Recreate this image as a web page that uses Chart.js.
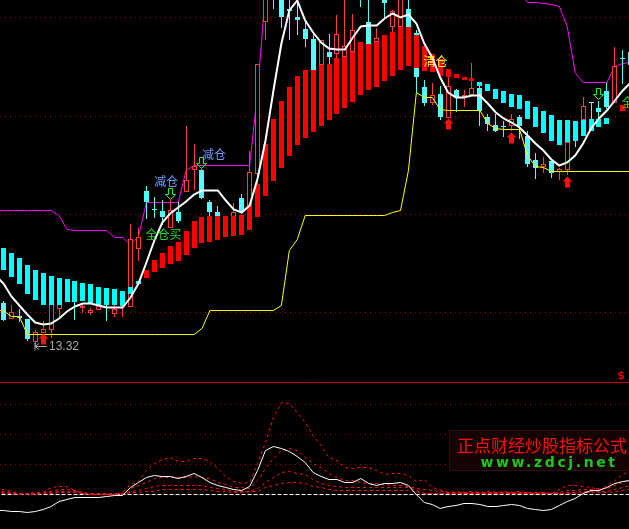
<!DOCTYPE html>
<html>
<head>
<meta charset="utf-8">
<style>
    html, body { margin: 0; padding: 0; background: #000; overflow: hidden; }
    canvas { display: block; }
</style>
<script src="https://cdn.jsdelivr.net/npm/chart.js"></script>
</head>
<body>
<canvas id="kline" width="629" height="529"></canvas>
<script>
    // candles, one entry per trading day (upper pane units)
    const candleTop = [
        81,72,68,65,52,55,83,81,98,93,
        78,73,78,93,75,75,145,147,193,175,
        173,174,171,204,218,213,182,172,163,171,
        186,212,320,388,403,388,374,366,354,345,
        343,331,349,338,353,393,361,346,386,372,
        386,375,351,297,288,290,298,293,288,296,
        296,267,259,258,265,267,248,224,219,223,
        214,242,258,278,281,276,292,317,325,332];
    const candleBottom = [
        64,65,66,45,42,51,54,75,88,85,
        76,71,73,83,70,74,77,134,182,174,
        167,156,163,192,213,186,171,167,158,167,
        172,178,210,362,388,366,372,364,345,308,
        319,327,329,327,331,386,340,341,380,357,
        357,343,307,280,280,267,266,286,286,289,
        273,260,253,256,257,257,219,216,217,211,
        212,213,253,264,280,272,277,280,324,319];
    const candleHigh = [
        83,79,74,65,54,62,83,82,98,98,
        80,76,80,95,79,78,160,156,198,187,
        184,183,182,257,240,215,184,178,165,181,
        190,232,320,388,403,388,388,388,364,351,
        343,349,369,388,370,393,388,356,388,373,
        386,388,353,304,300,298,307,294,293,321,
        299,270,269,262,270,268,253,231,226,223,
        216,263,261,286,281,283,300,336,334,338];
    const candleLow = [
        62,65,61,43,37,51,46,67,88,64,
        71,69,73,63,67,67,77,123,164,166,
        158,156,161,192,194,185,168,167,155,167,
        171,176,200,344,374,355,344,348,336,308,
        319,320,325,327,331,377,338,341,365,352,
        357,343,291,278,279,264,266,272,277,289,
        257,253,252,247,253,244,217,205,211,206,
        204,209,237,264,265,265,274,280,299,308];
    const candleUp = [
        0,1,0,0,1,1,1,1,0,0,
        1,1,1,0,1,1,1,1,0,0,
        0,1,0,1,1,0,0,0,1,1,
        0,1,1,1,0,0,0,0,0,0,
        1,0,1,1,1,0,0,1,0,1,
        1,0,0,0,1,0,1,0,1,1,
        0,0,0,0,1,0,0,0,1,0,
        1,1,0,1,0,0,0,1,0,0];

    // thick red/cyan trend band
    const bandTop = [
        136,131,126,119,114,110,108,106,105,103,
        101,99,97,96,95,93,97,103,114,124,
        131,138,142,152,163,167,168,168,168,168,
        169,178,200,240,265,282,297,308,314,314,
        319,320,325,327,331,341,340,341,348,352,
        357,357,348,337,329,324,315,310,307,305,
        302,299,295,292,290,288,282,277,273,268,
        264,263,262,264,265,265,266,270,279];
    const bandBottom = [
        114,107,100,90,84,79,79,79,82,82,
        83,80,78,79,79,78,90,99,106,111,
        116,120,123,129,136,140,142,144,146,148,
        149,154,167,188,203,216,228,238,246,251,
        258,263,270,275,281,288,293,297,303,308,
        314,317,316,313,311,308,307,305,304,303,
        298,292,285,280,277,274,265,256,250,243,
        238,242,243,248,253,256,260,269,273];
    const bandUp = [
        0,0,0,0,0,0,0,0,0,0,
        0,0,0,0,0,0,0,0,1,1,
        1,1,1,1,1,1,1,1,1,1,
        1,1,1,1,1,1,1,1,1,1,
        1,1,1,1,1,1,1,1,1,1,
        1,1,1,1,1,1,1,1,1,1,
        0,0,0,0,0,0,0,0,0,0,
        0,0,0,0,0,0,0,0,1];

    // the lines below start one day before the first candle, off the left edge
    const whiteLine = [108,
        100,87,78,69,61,59,60,65,72,77,
        80,80,78,76,76,76,86,100,121,143,
        161,170,176,182,189,193,193,193,183,174,
        171,178,205,243,293,340,373,383,363,351,
        341,335,334,334,346,357,358,358,365,370,
        366,369,360,340,326,306,291,286,286,288,
        288,280,271,265,261,256,248,240,233,224,
        218,221,228,240,255,265,273,283,293,301];
    const magentaLine = [173,
        173,173,173,173,173,173,173,168,154,153,
        153,153,153,153,146,146,139,147,181,181,
        181,181,181,213,218,218,218,218,218,218,
        218,218,291,393,null,null,null,null,null,null,
        null,null,null,null,null,null,null,null,null,null,
        null,null,null,null,null,null,null,null,null,null,
        null,null,null,null,null,393,381,381,380,379,
        377,357,311,301,301,301,301,317,320,321];
    const yellowLine = [73,
        73,67,67,49,49,49,49,49,49,49,
        49,49,49,49,49,49,49,49,49,49,
        49,49,49,49,49,55,73,73,73,73,
        73,73,73,73,73,78,133,144,168,168,
        168,168,168,168,168,168,168,168,168,171,
        173,213,291,286,286,274,273,273,273,273,
        273,260,255,254,254,254,228,217,216,212,
        212,212,212,212,212,212,212,212,212,212];

    // lower pane
    const oscMain = [-16,
        -16,-17,-17,-18,-17,-15,-12,-7,-5,-3,
        -3,-3,-3,-2,-1,-1,7,12,17,19,
        18,18,16,18,21,17,12,9,7,5,
        4,8,24,44,48,46,43,38,32,22,
        18,15,15,12,12,16,11,9,11,11,
        12,9,0,-8,-10,-14,-12,-11,-9,-9,
        -10,-12,-12,-11,-10,-11,-14,-15,-16,-15,
        -11,-7,-4,1,4,4,7,11,13,14];
    const oscRed1 = [6,
        5,3,1,1,2,2,7,8,8,4,
        1,0,0,0,0,2,10,13,24,31,
        35,37,33,33,36,36,33,26,18,13,
        11,12,31,52,77,92,91,82,72,59,
        49,37,34,27,26,27,27,24,20,21,
        21,19,13,15,7,5,2,3,2,3,
        2,3,2,3,2,3,2,2,2,1,
        5,9,9,8,7,5,9,14,20,24];
    const oscRed2 = [3,
        3,2,1,1,1,2,3,5,5,4,
        2,1,1,1,1,1,6,9,12,16,
        17,17,17,17,18,17,16,12,10,7,
        7,6,14,26,36,44,46,44,37,31,
        27,21,17,14,14,12,11,11,10,9,
        9,8,6,5,4,3,2,2,2,2,
        2,2,2,2,2,2,2,1,2,1,
        2,4,4,5,5,6,6,9,12,16];
    const oscRed3 = [2,
        2,1,1,1,1,1,2,3,3,3,
        1,1,1,1,1,1,3,4,6,8,
        9,9,9,9,9,9,7,6,5,3,
        3,3,6,12,17,22,23,21,20,15,
        11,9,8,7,7,7,7,7,7,7,
        7,7,4,1,1,1,1,1,1,1,
        1,1,1,1,1,1,1,1,1,1,
        1,2,2,3,3,3,3,5,7,9];
    const oscRed4 = [1,
        1,1,0,0,0,1,1,2,2,2,
        1,0,0,0,0,0,2,2,3,3,
        5,5,5,5,5,5,4,3,3,2,
        2,3,3,7,9,11,12,12,11,8,
        7,5,4,4,4,4,4,4,4,4,
        4,4,2,1,1,1,1,1,1,1,
        1,1,1,1,1,1,1,1,1,1,
        1,1,1,2,2,2,2,3,4,5];

    // tick levels
    const priceGrid = [366, 267, 169, 71];
    const oscGrid = [90, 60, 30];

    // signal arrows
    const buyDays = [5, 56, 64, 71];
    const buyLevels = [44.5, 259.5, 245.5, 201.5];
    const cutDays = [21, 25, 75];
    const cutLevels = [189.5, 221, 290];

    // signal words
    const noteTexts = ['减仓', '减仓', '全仓买', '清仓', '全仓买'];
    const noteDays = [20.5, 26.5, 20.15, 54.4, 80.1];
    const noteLevels = [202.5, 229.5, 149, 322, 281];
    const noteColors = ['#6c9cff', '#6c9cff', '#22dd22', '#ffff33', '#22dd22'];

    const lowLabel = '13.32';
    const lowDay = 5.48;
    const lowLevel = 37;

    const CYAN = '#54fcfc';
    const RED = '#ff3c3c';
    const series = arr => arr.map((v, i) => ({ x: i - 1, y: v }));
    const span = (a, b) => a.map((v, i) => ({ x: i, y: [b[i], v] }));

    function arrowSprite(color, down, hollow) {
        const c = document.createElement('canvas');
        c.width = 11; c.height = 12;
        const g = c.getContext('2d');
        const shaftL = hollow ? 3.5 : 3, shaftR = hollow ? 7.5 : 8;
        const pts = [[5.5, 0.5], [10.5, 5.5], [shaftR, 5.5], [shaftR, 11.5], [shaftL, 11.5], [shaftL, 5.5], [0.5, 5.5]];
        if (down) g.setTransform(1, 0, 0, -1, 0, 12);
        g.beginPath();
        pts.forEach((p, i) => i ? g.lineTo(p[0], p[1]) : g.moveTo(p[0], p[1]));
        g.closePath();
        if (hollow) {
            g.strokeStyle = color;
            g.stroke();
        } else {
            g.fillStyle = color;
            g.fill();
        }
        return c;
    }

    const barBase = { type: 'bar', grouped: false, borderSkipped: false, inflateAmount: 0, xAxisID: 'x', yAxisID: 'y' };
    const lineBase = { type: 'line', pointRadius: 0, tension: 0, spanGaps: false, xAxisID: 'x', yAxisID: 'y' };
    const oscLine = (arr, order) => ({
        ...lineBase, data: series(arr), yAxisID: 'osc', borderColor: '#ff1010', borderWidth: 1, borderDash: [3, 3], order: order
    });

    // snap bars and arrows on whole pixels, the reference has no antialiasing
    const snapBars = {
        id: 'snapBars',
        afterDatasetsUpdate(chart) {
            chart.getSortedVisibleDatasetMetas().forEach(meta => {
                if (meta.type === 'bar') {
                    meta.data.forEach(el => {
                        el.x = Math.floor(el.x) + 0.5;
                        el.y = Math.round(el.y);
                        el.base = Math.round(el.base);
                    });
                } else if (meta.type === 'scatter') {
                    meta.data.forEach(el => {
                        el.x = Math.floor(el.x) + 0.5;
                        el.y = Math.round(el.y);
                    });
                }
            });
        }
    };

    const notes = {
        id: 'notes',
        afterDatasetsDraw(chart) {
            const g = chart.ctx, x = chart.scales.x, y = chart.scales.y;
            g.save();
            g.textAlign = 'center';
            g.textBaseline = 'middle';
            g.font = '12px "Noto Sans CJK SC"';
            noteTexts.forEach((t, i) => {
                g.fillStyle = noteColors[i];
                g.fillText(t, x.getPixelForValue(noteDays[i]), y.getPixelForValue(noteLevels[i]));
            });

            // lowest price tag
            const lx = x.getPixelForValue(lowDay), ly = Math.round(y.getPixelForValue(lowLevel)) + 0.5;
            g.strokeStyle = '#a8a8a8';
            g.beginPath();
            g.moveTo(lx - 12, ly); g.lineTo(lx, ly);
            g.moveTo(lx - 8, ly - 3); g.lineTo(lx - 12, ly); g.lineTo(lx - 8, ly + 3);
            g.moveTo(lx - 12, ly - 4); g.lineTo(lx - 12, ly + 4);
            g.stroke();
            g.fillStyle = '#a8a8a8';
            g.textAlign = 'left';
            g.font = '12px "Liberation Sans"';
            g.fillText(lowLabel, lx + 2, ly);

            g.fillStyle = '#e00000';
            g.textAlign = 'center';
            g.font = 'bold 11px "DejaVu Sans"';
            g.fillText('$', 621, 376);

            // site stamp
            g.fillStyle = '#140404';
            g.fillRect(449, 430, 180, 41);
            g.strokeStyle = '#2c1010';
            g.strokeRect(449.5, 430.5, 180, 40);
            g.fillStyle = '#f81010';
            g.font = '17px "Noto Sans CJK SC"';
            g.fillText('正点财经炒股指标公式', 542, 446);
            g.fillStyle = '#1cc81c';
            g.font = 'bold 14px "DejaVu Sans"';
            g.letterSpacing = '2.6px';
            g.fillText('www.zdcj.net', 549, 463);
            g.restore();
        }
    };

    new Chart(document.getElementById('kline').getContext('2d'), {
        data: {
            datasets: [
                { ...lineBase, data: series(magentaLine), borderColor: '#ff00ff', borderWidth: 1, order: 70 },
                { ...barBase, data: span(candleHigh, candleLow), barThickness: 1, order: 60,
                    backgroundColor: candleUp.map(u => u ? RED : CYAN) },
                { ...barBase, data: span(candleTop, candleBottom), barThickness: 5, order: 50, borderWidth: 1,
                    backgroundColor: candleUp.map(u => u ? '#000' : CYAN),
                    borderColor: candleUp.map(u => u ? RED : CYAN) },
                { ...barBase, data: span(bandTop, bandBottom), barThickness: 5, order: 40,
                    backgroundColor: bandUp.map(u => u ? '#ff0000' : '#00ffff') },
                { ...lineBase, data: series(yellowLine), borderColor: '#ffff00', borderWidth: 1, order: 30 },
                { ...lineBase, data: series(whiteLine), borderColor: '#ffffff', borderWidth: 2, order: 20 },
                { type: 'scatter', data: buyDays.map((d, i) => ({ x: d, y: buyLevels[i] })), xAxisID: 'x', yAxisID: 'y',
                    pointStyle: arrowSprite('#ff1010', false, false), order: 10 },
                { type: 'scatter', data: cutDays.map((d, i) => ({ x: d, y: cutLevels[i] })), xAxisID: 'x', yAxisID: 'y',
                    pointStyle: arrowSprite('#22f022', true, true), order: 10 },

                { ...lineBase, data: [{ x: -1, y: 1 }, { x: 80, y: 1 }], borderColor: '#c80000', borderWidth: 1, order: 35 },
                { ...lineBase, data: [{ x: -1, y: 0 }, { x: 80, y: 0 }], yAxisID: 'osc', borderColor: '#ffffff', borderWidth: 1, borderDash: [4, 2], order: 35 },
                oscLine(oscRed1, 34), oscLine(oscRed2, 34), oscLine(oscRed3, 34), oscLine(oscRed4, 34),
                { ...lineBase, data: series(oscMain), yAxisID: 'osc', borderColor: '#ffffff', borderWidth: 1, order: 33 }
            ]
        },
        options: {
            responsive: false,
            animation: false,
            events: [],
            layout: { padding: 0, autoPadding: false },
            plugins: { legend: { display: false }, tooltip: { enabled: false } },
            scales: {
                // one candle is 7.94px wide, the first sits 3.5px in
                x: { type: 'linear', display: false, offset: false, min: -0.44, max: 78.78 },
                y: {
                    min: -145.5, max: 383.5,
                    afterBuildTicks: ax => { ax.ticks = priceGrid.map(v => ({ value: v })); },
                    ticks: { display: false },
                    grid: { color: '#a00000', drawTicks: false },
                    border: { display: false, dash: [1, 4] }
                },
                osc: {
                    position: 'left',
                    min: -34.5, max: 494.5,
                    afterBuildTicks: ax => { ax.ticks = oscGrid.map(v => ({ value: v })); },
                    ticks: { display: false },
                    grid: { color: '#a00000', drawTicks: false },
                    border: { display: false, dash: [1, 4] }
                }
            }
        },
        plugins: [snapBars, notes]
    });
</script>
</body>
</html>
